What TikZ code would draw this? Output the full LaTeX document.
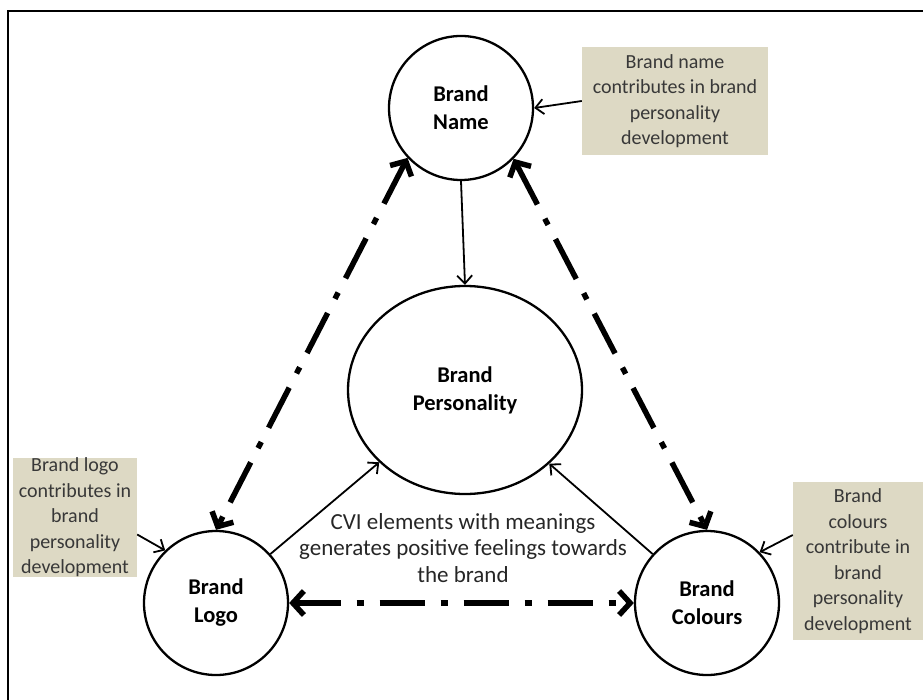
\documentclass[tikz,border=0pt]{standalone}
\usepackage{fontspec}
\setmainfont{Carlito}
\usetikzlibrary{arrows.meta,shapes.geometric}
\definecolor{boxtan}{RGB}{221,217,196}
\definecolor{boxtext}{RGB}{56,56,56}
\begin{document}
\begin{tikzpicture}[x=1pt,y=-1pt,
  circ/.style={circle,draw,line width=2.3pt,minimum size=144pt,inner sep=0pt,align=center,
    font=\bfseries\fontsize{22.5}{28}\selectfont},
  note/.style={fill=boxtan,inner sep=0pt,align=center,text=boxtext,
    font=\fontsize{20}{25.5}\selectfont},
  thin/.style={line width=1.8pt,-{Straight Barb[length=8pt,width=15pt]}},
  dd/.style={line width=5.5pt,dash pattern=on 45pt off 16pt on 7pt off 16pt,
    {Straight Barb[length=11pt,width=24pt]}-{Straight Barb[length=11pt,width=24pt]}}
  ]
\useasboundingbox (0,0) rectangle (923,700);
\draw[line width=2pt] (8,702) -- (8,11) -- (925,11);

\node[circ] (name) at (461,108) {Brand\\Name};
\node[circ] (logo) at (216,603) {Brand\\Logo};
\node[circ] (col) at (707,603) {Brand\\Colours};
\node[ellipse,draw,line width=2.3pt,minimum width=234pt,minimum height=208pt,inner sep=0pt,
  align=center,font=\bfseries\fontsize{22.5}{28}\selectfont] (pers) at (465,390) {Brand\\Personality};

\node[note,minimum width=186pt,minimum height=108pt] (nbox) at (675,101)
  {Brand name\\contributes in brand\\personality\\development};
\node[note,minimum width=124pt,minimum height=119pt] (lbox) at (75,517.5)
  {Brand logo\\contributes in\\brand\\personality\\development};
\node[note,minimum width=130pt,minimum height=158pt] (cbox) at (858,561)
  {Brand\\colours\\contribute in\\brand\\personality\\development};

\node[align=center,font=\fontsize{23}{26.5}\selectfont,text=black!85] (cvi) at (463,548)
  {CVI elements with meanings\\generates positive feelings towards\\the brand};

\draw[thin] (name.south) -- (pers.north);
\draw[thin] (logo.42) -- (pers);
\draw[thin] (col.138) -- (pers);
\draw[thin] (nbox.west) -- (name.east);
\draw[thin] ([yshift=-17pt]lbox.east) -- (logo.134);
\draw[thin] ([yshift=26pt]cbox.west) -- (col.44);

\draw[dd] (name.223) -- (logo.north);
\draw[dd] (name.316) -- (col.north);
\draw[dd] (logo.east) -- (col.west);
\end{tikzpicture}
\end{document}
